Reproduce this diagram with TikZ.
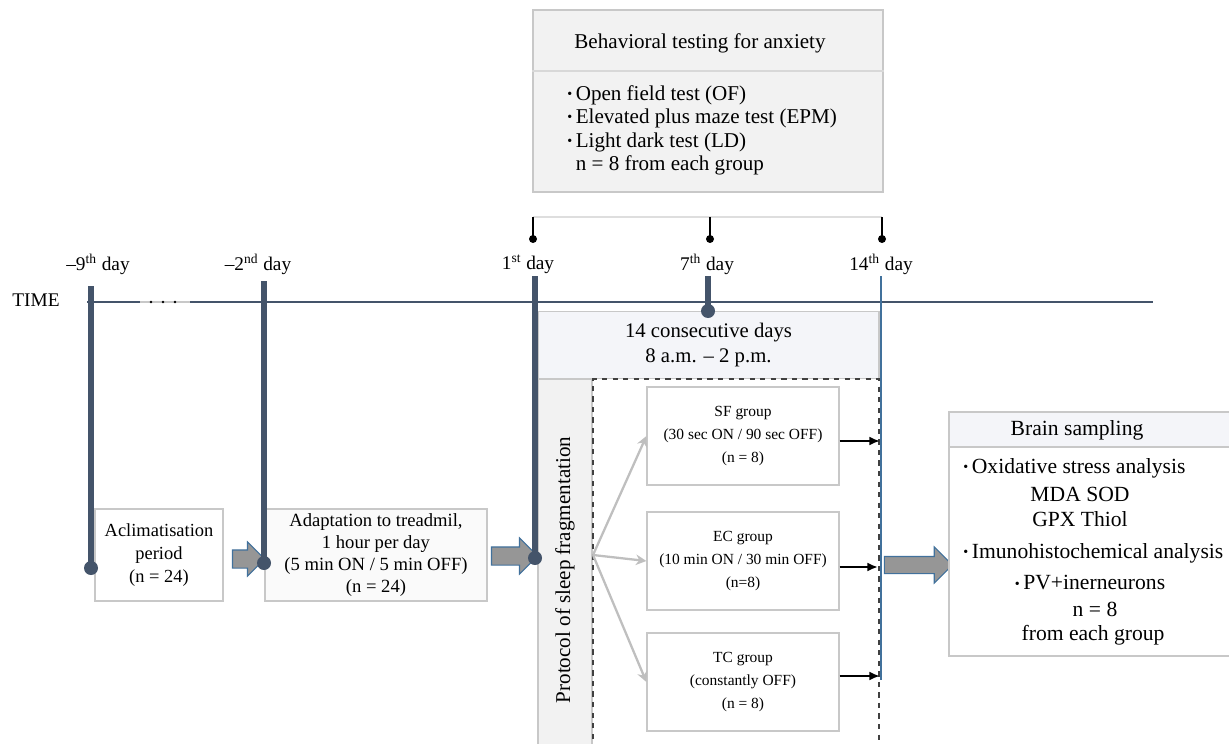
\documentclass[tikz,border=0pt]{standalone}
\usepackage{fontspec}
\setmainfont{Liberation Serif}
\usetikzlibrary{shapes.arrows,arrows.meta}

\newcommand\dotitem{\raisebox{0.2ex}{\fontsize{8}{8}\selectfont\textbullet}\,}

\begin{document}
\begin{tikzpicture}[
    x=0.02cm, y=-0.02cm,
    every node/.style={inner sep=0pt, font=\fontsize{11}{13.3}\selectfont},
    greybox/.style={draw=boxline, line width=0.7pt},
    groupbox/.style={greybox, fill=white, minimum width=3.84cm, minimum height=1.96cm,
        align=center, font=\fontsize{8.8}{13}\selectfont},
    daybar/.style={draw=slate, line width=3.3pt},
    fanarrow/.style={draw=fangray, line width=1.3pt, -{Stealth[length=6pt,width=6pt]}},
    outarrow/.style={draw=black, line width=1.4pt, -{Latex[length=6pt,width=5pt]}},
    blockarrow/.style={single arrow, draw=arrowblue, fill=arrowgray, line width=0.6pt,
        shape border rotate=0}
]

% Define colors
\definecolor{slate}{RGB}{68,84,106}
\definecolor{boxline}{RGB}{200,200,200}
\definecolor{boxfill}{RGB}{242,242,242}
\definecolor{paleblue}{RGB}{244,245,249}
\definecolor{fangray}{RGB}{191,191,191}
\definecolor{arrowgray}{RGB}{150,150,150}
\definecolor{arrowblue}{RGB}{65,113,156}

\useasboundingbox (0,0) rectangle (1229,743);

% Behavioral testing box
\node[greybox, fill=boxfill, minimum width=7cm, minimum height=3.64cm] (beh) at (708,101) {};
\draw[boxline!70, line width=0.7pt] (beh.west |- 0,71) -- (beh.east |- 0,71);
\node[font=\fontsize{12}{13.3}\selectfont] (behtitle) at (700,43) {Behavioral testing for anxiety};
\node[anchor=north west, align=left, font=\fontsize{12}{13.4}\selectfont] (behlist) at (567,85) {%
\dotitem Open field test (OF)\\
\dotitem Elevated plus maze test (EPM)\\
\dotitem Light dark test (LD)\\
\phantom{\dotitem}n = 8 from each group};

% Bracket under the testing box
\coordinate (br1) at (533,217);
\coordinate (br7) at (710,217);
\coordinate (br14) at (882,217);
\draw[boxline!60, line width=0.8pt] (br1) -- (br14);
\foreach \c in {br1,br7,br14} {
    \draw[black, line width=1pt] (\c) -- ++(0,22) coordinate (\c dot);
    \fill[black] (\c dot) circle (4);
}

% Day labels
\node (lbl9) at (98,264) {--9\textsuperscript{th} day};
\node (lbl2) at (258,264) {--2\textsuperscript{nd} day};
\node (lbl1) at (528,264) {1\textsuperscript{st} day};
\node (lbl7) at (707,264) {7\textsuperscript{th} day};
\node (lbl14) at (881,264) {14\textsuperscript{th} day};
\node (time) at (36,300) {TIME};

% Time axis
\coordinate (axstart) at (87,302);
\coordinate (gapa) at (140,302);
\coordinate (gapb) at (190,302);
\coordinate (axend) at (1153,302);
\draw[slate, line width=0.9pt] (axstart) -- (gapa);
\draw[boxline, line width=0.9pt] (gapa) -- (gapb);
\draw[slate, line width=0.9pt] (gapb) -- (axend);
\foreach \x in {151,163,175}
    \fill[black] (\x,302) circle (1.3);

% Lower boxes
\node[greybox, fill=white, minimum width=2.56cm, minimum height=1.84cm, align=center,
    font=\fontsize{10.5}{13}\selectfont] (acl) at (159,555)
    {Aclimatisation\\ period\\ (n = 24)};
\node[greybox, fill=black!2, minimum width=4.44cm, minimum height=1.84cm, align=center,
    font=\fontsize{10.6}{12.6}\selectfont] (adp) at (376,555)
    {Adaptation to treadmil,\\ 1 hour per day\\ (5 min ON / 5 min OFF)\\ (n = 24)};

% Block arrows between phases
\node[blockarrow, inner sep=0.17cm, minimum height=0.64cm, minimum width=0.64cm, single arrow head extend=0.16cm] (arr1) at (244,559) {};
\node[blockarrow, inner sep=0.17cm, minimum height=0.92cm, minimum width=0.70cm, single arrow head extend=0.18cm] (arr2) at (510,556) {};

% Sleep fragmentation period
\node[greybox, fill=paleblue, minimum width=6.82cm, minimum height=1.34cm, align=center,
    font=\fontsize{11.8}{14}\selectfont] (cons) at (708.5,345)
    {14 consecutive days\\ 8 a.m. -- 2 p.m.};
\fill[boxfill] (538,379) rectangle (592,760);
\draw[boxline, line width=0.7pt] (538,760) -- (538,379) -- (592,379) -- (592,760);
\node[rotate=90, font=\fontsize{12}{14}\selectfont] (prot) at (565,570) {Protocol of sleep fragmentation};
\draw[black!75, dashed, line width=0.7pt] (593,760) -- (593,379) -- (879,379) -- (879,760);

% Day bars
\coordinate (d9top) at (91,286);
\coordinate (d9bot) at (91,568);
\coordinate (d2top) at (264,281);
\coordinate (d2bot) at (264,563);
\coordinate (d1top) at (535,276);
\coordinate (d1bot) at (535,558);
\coordinate (d7top) at (708,276);
\coordinate (d7bot) at (708,311);
\coordinate (d14top) at (881,276);
\coordinate (d14bot) at (881,680);
\foreach \t/\b in {d9top/d9bot, d2top/d2bot, d1top/d1bot, d7top/d7bot} {
    \draw[daybar] (\t) -- (\b);
    \fill[slate] (\b) circle (7);
}
\draw[arrowblue, line width=0.7pt] (d14top) -- (d14bot);

% Groups
\node[groupbox] (sf) at (743,436) {SF group\\ (30 sec ON / 90 sec OFF)\\ (n = 8)};
\node[groupbox] (ec) at (743,561) {EC group\\ (10 min ON / 30 min OFF)\\ (n=8)};
\node[groupbox] (tc) at (743,682) {TC group\\ (constantly OFF)\\ (n = 8)};

\coordinate (fan) at (593,555);
\draw[fanarrow] (fan) -- (sf.west);
\draw[fanarrow] (fan) -- (ec.west);
\draw[fanarrow] (fan) -- (tc.west);

\coordinate (sfout) at (880,441);
\coordinate (ecout) at (878,567);
\coordinate (tcout) at (880,676);
\draw[outarrow] (sf.east |- sfout) -- (sfout);
\draw[outarrow] (ec.east |- ecout) -- (ecout);
\draw[outarrow] (tc.east |- tcout) -- (tcout);

% Brain sampling
\node[blockarrow, inner sep=0.16cm, minimum height=1.36cm, minimum width=0.68cm, single arrow head extend=0.19cm] (arr3) at (914,565) {};
\node[greybox, fill=white, minimum width=5.72cm, minimum height=4.88cm] (brain) at (1092,534) {};
\fill[paleblue] (949.5,412.5) rectangle (1235,447);
\draw[boxline, line width=0.7pt] (949,447) -- (1235,447);
\node[font=\fontsize{12.3}{14}\selectfont] (braintitle) at (1077,430) {Brain sampling};
\begin{scope}[every node/.append style={font=\fontsize{12.3}{14}\selectfont}]
\node[anchor=west] (ox) at (963,468) {\dotitem Oxidative stress analysis};
\node (mda) at (1080,494) {MDA SOD};
\node (gpx) at (1080,519) {GPX Thiol};
\node[anchor=west] (imu) at (963,553) {\dotitem Imunohistochemical analysis};
\node (pv) at (1090,583) {\dotitem PV+inerneurons};
\node (neq) at (1095,609) {n = 8};
\node (each) at (1093,635) {from each group};
\end{scope}

\end{tikzpicture}
\end{document}
